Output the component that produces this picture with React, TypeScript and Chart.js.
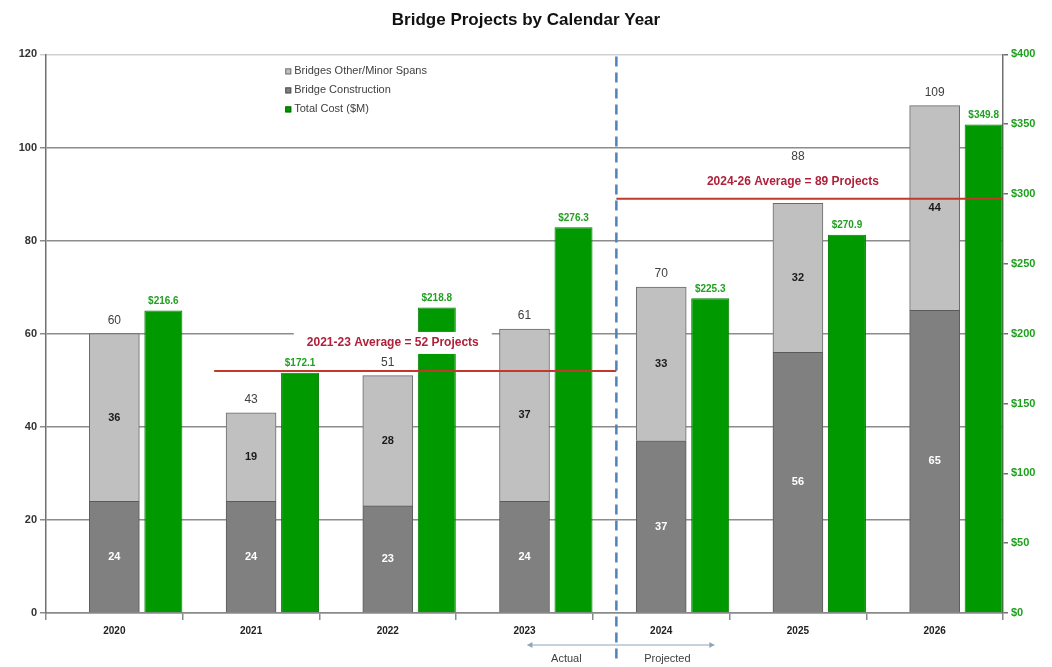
import React, { useEffect, useRef } from "react";
import { Chart, registerables } from "chart.js";

Chart.register(...registerables);

const years = ["2020", "2021", "2022", "2023", "2024", "2025", "2026"];
const bridgeConstruction = [24, 24, 23, 24, 37, 56, 65];
const otherMinorSpans = [36, 19, 28, 37, 33, 32, 44];
const totalCostM = [216.6, 172.1, 218.8, 276.3, 225.3, 270.9, 349.8];
const spacer = [0, 0, 0, 0, 0, 0, 0];

const averageLabels = ["2021-23 Average = 52 Projects", "2024-26 Average = 89 Projects"];
const averageValues = [52, 89];
const averageFirstIndex = [1, 4];
const averageLastIndex = [3, 6];

const seriesNames = ["Bridges Other/Minor Spans", "Bridge Construction", "Total Cost ($M)"];
const phaseLabels = ["Actual", "Projected"];
const firstProjectedIndex = 4;

const FONT = "'Liberation Sans', Arial, sans-serif";
const LIGHT = "#c0c0c0";
const DARK = "#808080";
const GREEN = "#009a00";
const RED = "#c0392b";

const overlayPlugin = {
  id: "overlay",
  afterDatasetsDraw(chart: any) {
    const ctx = chart.ctx;
    const area = chart.chartArea;
    const xs = chart.scales.x;
    const ys = chart.scales.y;
    const constructionMeta = chart.getDatasetMeta(1);
    const otherMeta = chart.getDatasetMeta(2);
    const costMeta = chart.getDatasetMeta(3);

    const lastActual = costMeta.data[firstProjectedIndex - 1];
    const firstProj = otherMeta.data[firstProjectedIndex];
    const divX = (lastActual.x + lastActual.width / 2 + firstProj.x - firstProj.width / 2) / 2 + 2;

    ctx.save();
    ctx.font = `bold 12px ${FONT}`;
    const boxes: any[] = [];
    averageLabels.forEach((lab, i) => {
      const mid = Math.round((averageFirstIndex[i] + averageLastIndex[i]) / 2);
      const cx = xs.getPixelForValue(mid) + (i === 0 ? 5 : -5);
      const lineY = ys.getPixelForValue(averageValues[i]);
      const cy = lineY - (i === 0 ? 28 : 17);
      const w = ctx.measureText(lab).width + 26;
      const box = { l: cx - w / 2, r: cx + w / 2, t: cy - 11, b: cy + 11, cx, cy };
      boxes.push(box);
      ctx.fillStyle = "#ffffff";
      ctx.fillRect(box.l, box.t, w, 22);
    });

    ctx.strokeStyle = RED;
    ctx.lineWidth = 2;
    averageValues.forEach((v, i) => {
      const y = ys.getPixelForValue(v);
      const x0 = i === 0 ? xs.getPixelForValue(averageFirstIndex[i] - 0.27) : divX;
      const x1 = i === 0 ? divX : area.right;
      ctx.beginPath();
      ctx.moveTo(x0, y);
      ctx.lineTo(x1, y);
      ctx.stroke();
    });

    ctx.strokeStyle = "#4f81bd";
    ctx.lineWidth = 2.5;
    ctx.setLineDash([10, 6]);
    ctx.beginPath();
    ctx.moveTo(divX, area.top + 2);
    ctx.lineTo(divX, area.bottom + 50);
    ctx.stroke();
    ctx.setLineDash([]);

    ctx.textAlign = "center";
    ctx.textBaseline = "middle";

    ctx.font = `bold 11px ${FONT}`;
    constructionMeta.data.forEach((el: any, i: number) => {
      ctx.fillStyle = "#ffffff";
      ctx.fillText(String(bridgeConstruction[i]), el.x, (el.y + el.base) / 2);
    });
    otherMeta.data.forEach((el: any, i: number) => {
      ctx.fillStyle = "#1a1a1a";
      ctx.fillText(String(otherMinorSpans[i]), el.x, (el.y + el.base) / 2);
    });

    ctx.font = `12px ${FONT}`;
    otherMeta.data.forEach((el: any, i: number) => {
      const txt = String(bridgeConstruction[i] + otherMinorSpans[i]);
      const w = ctx.measureText(txt).width + 6;
      let y = el.y - 13;
      boxes.forEach((b) => {
        if (el.x + w / 2 > b.l && el.x - w / 2 < b.r && y + 7 > b.t && y - 7 < b.b) {
          y = b.t - 14;
        }
      });
      ctx.fillStyle = "#ffffff";
      ctx.fillRect(el.x - w / 2, y - 7, w, 14);
      ctx.fillStyle = "#404040";
      ctx.fillText(txt, el.x, y);
    });

    ctx.font = `bold 10px ${FONT}`;
    costMeta.data.forEach((el: any, i: number) => {
      const txt = "$" + totalCostM[i].toFixed(1);
      ctx.fillStyle = "#22a022";
      ctx.fillText(txt, el.x, el.y - 9);
    });

    ctx.font = `bold 12px ${FONT}`;
    ctx.fillStyle = "#b0203a";
    averageLabels.forEach((lab, i) => {
      ctx.fillText(lab, boxes[i].cx, boxes[i].cy);
    });

    const ay = area.bottom + 32;
    const ax0 = divX - 89;
    const ax1 = divX + 98;
    ctx.strokeStyle = "#8ea4b8";
    ctx.fillStyle = "#8ea4b8";
    ctx.lineWidth = 1;
    ctx.beginPath();
    ctx.moveTo(ax0, ay);
    ctx.lineTo(ax1, ay);
    ctx.stroke();
    [
      [ax0, 1],
      [ax1, -1],
    ].forEach(([x, d]) => {
      ctx.beginPath();
      ctx.moveTo(x, ay);
      ctx.lineTo(x + 5 * d, ay - 3);
      ctx.lineTo(x + 5 * d, ay + 3);
      ctx.closePath();
      ctx.fill();
    });
    ctx.font = `11px ${FONT}`;
    ctx.fillStyle = "#404040";
    ctx.fillText(phaseLabels[0], divX - 50, area.bottom + 46);
    ctx.fillText(phaseLabels[1], divX + 51, area.bottom + 46);

    const lx = area.left + area.width * 0.25;
    const colors = [LIGHT, DARK, GREEN];
    const borders = ["#707070", "#505050", "#006600"];
    ctx.textAlign = "left";
    ctx.font = `11px ${FONT}`;
    seriesNames.forEach((name, i) => {
      const y = area.top + 17 + i * 19;
      ctx.fillStyle = colors[i];
      ctx.fillRect(lx, y - 3, 6, 6);
      ctx.strokeStyle = borders[i];
      ctx.lineWidth = 1;
      ctx.strokeRect(lx + 0.5, y - 2.5, 5, 5);
      ctx.fillStyle = "#404040";
      ctx.fillText(name, lx + 9, y);
    });
    ctx.restore();
  },
};

export default function App() {
  const ref = useRef<HTMLCanvasElement>(null);
  useEffect(() => {
    if (!ref.current) return;
    const chart = new Chart(ref.current, {
      type: "bar",
      data: {
        labels: years,
        datasets: [
          {
            label: "spacer",
            data: spacer,
            stack: "s0",
            yAxisID: "y",
            backgroundColor: "rgba(0,0,0,0)",
            borderWidth: 0,
            barThickness: 50,
          },
          {
            label: seriesNames[1],
            data: bridgeConstruction,
            stack: "s1",
            yAxisID: "y",
            backgroundColor: DARK,
            borderColor: "#5a5a5a",
            borderWidth: 1,
            barThickness: 50,
          },
          {
            label: seriesNames[0],
            data: otherMinorSpans,
            stack: "s1",
            yAxisID: "y",
            backgroundColor: LIGHT,
            borderColor: "#6a6a6a",
            borderWidth: 1,
            barThickness: 50,
          },
          {
            label: seriesNames[2],
            data: totalCostM,
            stack: "s2",
            yAxisID: "y2",
            backgroundColor: GREEN,
            borderColor: "#007a00",
            borderWidth: 1,
            categoryPercentage: 1.0754,
            barPercentage: 0.7755,
          },
        ],
      },
      options: {
        animation: false,
        responsive: false,
        layout: { padding: 0 },
        plugins: {
          legend: { display: false },
          tooltip: { enabled: false },
          title: {
            display: true,
            text: "Bridge Projects by Calendar Year",
            color: "#111111",
            font: { family: FONT, size: 17, weight: "bold" },
            padding: { top: 10, bottom: 24 },
          },
        },
        scales: {
          x: {
            grid: { drawOnChartArea: false, drawTicks: true, tickLength: 7, color: "#8a8a8a", lineWidth: 1.5 },
            border: { color: "#8a8a8a", width: 1.5 },
            ticks: { color: "#222222", font: { family: FONT, size: 10, weight: "bold" }, padding: 5 },
            afterFit: (s: any) => {
              s.height = 54;
            },
          },
          y: {
            stacked: true,
            min: 0,
            max: 120,
            ticks: { stepSize: 20, color: "#333333", font: { family: FONT, size: 11, weight: "bold" }, padding: 3 },
            grid: {
              color: (c: any) => (c.tick && c.tick.value === 120 ? "#d0d0d0" : "#8c8c8c"),
              lineWidth: 1.5,
              tickLength: 6,
            },
            border: { color: "#707070", width: 1.5 },
            afterFit: (s: any) => {
              s.width = 46;
            },
          },
          y2: {
            position: "right",
            stacked: false,
            min: 0,
            max: 400,
            ticks: {
              stepSize: 50,
              color: "#1f9f1f",
              font: { family: FONT, size: 11, weight: "bold" },
              padding: 3,
              callback: (v: any) => "$" + v,
            },
            grid: { drawOnChartArea: false, tickLength: 5, color: "#707070", lineWidth: 1.5 },
            border: { color: "#707070", width: 1.5 },
            afterFit: (s: any) => {
              s.width = 49;
            },
          },
        },
      },
      plugins: [overlayPlugin],
    } as any);
    return () => chart.destroy();
  }, []);
  return (
    <div style={{ position: "absolute", left: 0, top: 0, width: 1052, height: 667, background: "#fff" }}>
      <canvas ref={ref} width={1052} height={667} style={{ display: "block" }} />
    </div>
  );
}
